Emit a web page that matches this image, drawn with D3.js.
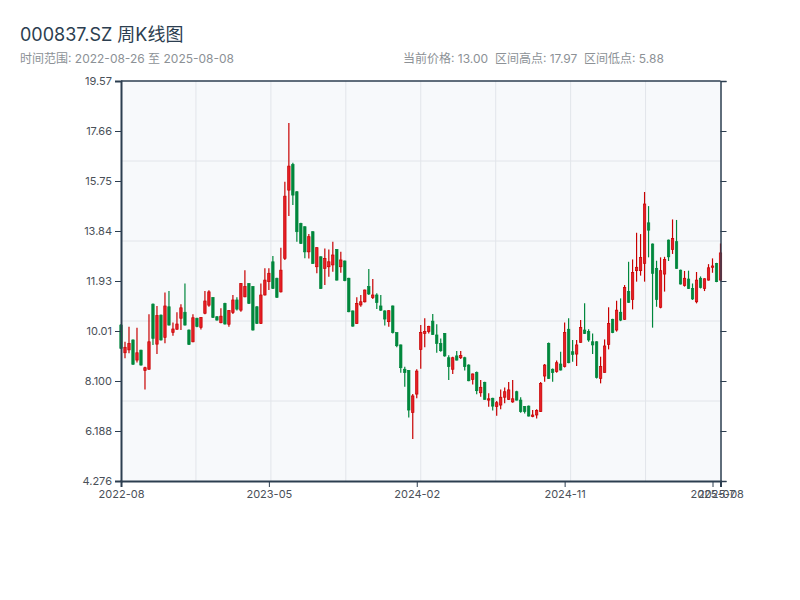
<!DOCTYPE html>
<html>
<head>
<meta charset="utf-8">
<script src="https://cdn.jsdelivr.net/npm/d3@7"></script>
<style>
    body { margin: 0; background: #fff; }
    svg text { font-family: Inter, "Noto Sans CJK SC", sans-serif; }
</style>
</head>
<body>
<div id="chart"></div>
<script>
var SYMBOL = '000837.SZ';

// weekly bars (holiday weeks have no bar)
var DATES = [
    '2022-08-26','2022-09-02','2022-09-09','2022-09-16','2022-09-23','2022-09-30','2022-10-14','2022-10-21',
    '2022-10-28','2022-11-04','2022-11-11','2022-11-18','2022-11-25','2022-12-02','2022-12-09','2022-12-16',
    '2022-12-23','2022-12-30','2023-01-06','2023-01-13','2023-01-20','2023-02-03','2023-02-10','2023-02-17',
    '2023-02-24','2023-03-03','2023-03-10','2023-03-17','2023-03-24','2023-03-31','2023-04-07','2023-04-14',
    '2023-04-21','2023-04-28','2023-05-05','2023-05-12','2023-05-19','2023-05-26','2023-06-02','2023-06-09',
    '2023-06-16','2023-06-23','2023-06-30','2023-07-07','2023-07-14','2023-07-21','2023-07-28','2023-08-04',
    '2023-08-11','2023-08-18','2023-08-25','2023-09-01','2023-09-08','2023-09-15','2023-09-22','2023-09-29',
    '2023-10-13','2023-10-20','2023-10-27','2023-11-03','2023-11-10','2023-11-17','2023-11-24','2023-12-01',
    '2023-12-08','2023-12-15','2023-12-22','2023-12-29','2024-01-05','2024-01-12','2024-01-19','2024-01-26',
    '2024-02-02','2024-02-09','2024-02-23','2024-03-01','2024-03-08','2024-03-15','2024-03-22','2024-03-29',
    '2024-04-05','2024-04-12','2024-04-19','2024-04-26','2024-05-03','2024-05-10','2024-05-17','2024-05-24',
    '2024-05-31','2024-06-07','2024-06-14','2024-06-21','2024-06-28','2024-07-05','2024-07-12','2024-07-19',
    '2024-07-26','2024-08-02','2024-08-09','2024-08-16','2024-08-23','2024-08-30','2024-09-06','2024-09-13',
    '2024-09-20','2024-09-27','2024-10-04','2024-10-11','2024-10-18','2024-10-25','2024-11-01','2024-11-08',
    '2024-11-15','2024-11-22','2024-11-29','2024-12-06','2024-12-13','2024-12-20','2024-12-27','2025-01-03',
    '2025-01-10','2025-01-17','2025-01-24','2025-01-31','2025-02-07','2025-02-14','2025-02-21','2025-02-28',
    '2025-03-07','2025-03-14','2025-03-21','2025-03-28','2025-04-04','2025-04-11','2025-04-18','2025-04-25',
    '2025-05-02','2025-05-09','2025-05-16','2025-05-23','2025-05-30','2025-06-06','2025-06-13','2025-06-20',
    '2025-06-27','2025-07-04','2025-07-11','2025-07-18','2025-07-25','2025-08-01','2025-08-08'
];

var OPEN = [
    10.24, 9.18, 9.29, 9.67, 8.90, 9.28, 8.50, 8.55, 11.04, 9.51, 10.62, 9.77, 10.94, 9.96, 10.08, 10.50,
    10.73, 10.05, 9.60, 10.50, 10.15, 10.69, 11.00, 11.29, 10.56, 10.33, 11.07, 10.27, 10.72, 11.20, 10.81, 11.32,
    11.83, 11.71, 10.94, 10.30, 11.39, 11.90, 12.66, 12.03, 11.51, 12.79, 15.40, 16.38, 15.34, 14.13, 14.00, 13.04,
    13.81, 12.47, 12.85, 12.41, 12.47, 12.54, 13.13, 12.47, 12.69, 12.03, 10.78, 10.30, 11.01, 11.13, 11.71, 11.29,
    11.39, 10.97, 10.78, 10.37, 10.97, 9.95, 9.48, 8.55, 8.50, 6.90, 7.60, 9.31, 9.92, 9.99, 10.39, 9.86,
    9.54, 9.92, 8.99, 8.55, 9.06, 8.99, 8.99, 8.71, 8.16, 8.42, 7.65, 8.05, 7.37, 7.44, 7.12, 7.18,
    7.48, 7.40, 7.30, 7.69, 7.37, 7.12, 7.14, 6.74, 6.80, 6.93, 8.29, 9.54, 8.55, 8.46, 8.75, 8.65,
    10.08, 9.22, 9.13, 9.58, 10.05, 9.99, 9.60, 9.60, 8.20, 8.43, 9.50, 10.46, 10.05, 10.73, 10.46, 11.52,
    11.22, 12.32, 12.32, 12.60, 14.15, 13.34, 12.41, 10.92, 12.19, 13.49, 13.13, 13.43, 12.34, 11.75, 12.00, 11.64,
    11.13, 12.03, 11.64, 11.96, 12.45, 12.60, 11.96
];
var HIGH = [
    10.28, 9.60, 10.18, 9.69, 10.14, 9.30, 8.65, 10.65, 11.06, 10.97, 10.64, 11.49, 11.54, 10.34, 10.73, 11.04,
    11.83, 10.07, 10.65, 10.52, 10.55, 11.54, 11.57, 11.31, 10.58, 10.88, 11.09, 10.81, 11.39, 11.30, 11.85, 12.34,
    11.85, 11.73, 10.96, 11.83, 12.41, 12.41, 12.88, 12.05, 13.20, 15.72, 17.97, 16.45, 15.36, 14.15, 14.02, 13.72,
    13.83, 13.22, 12.87, 13.17, 13.13, 13.43, 13.15, 13.04, 12.71, 12.05, 10.80, 11.30, 11.39, 11.60, 12.38, 12.00,
    11.46, 11.39, 10.81, 10.81, 10.99, 9.96, 9.50, 8.65, 8.52, 7.60, 8.55, 10.24, 10.50, 10.21, 10.66, 10.27,
    9.73, 9.94, 9.09, 9.03, 9.25, 9.25, 9.03, 8.74, 8.39, 8.46, 8.14, 8.07, 7.63, 7.46, 7.34, 7.78,
    7.85, 8.06, 8.14, 7.73, 7.48, 7.14, 7.16, 6.99, 7.02, 8.06, 8.75, 9.57, 8.58, 8.88, 9.22, 10.34,
    10.50, 9.67, 9.67, 10.43, 11.07, 10.08, 9.92, 9.62, 9.03, 9.69, 10.92, 10.48, 11.17, 11.26, 11.77, 12.66,
    12.75, 13.77, 13.72, 15.33, 14.79, 13.36, 12.70, 12.83, 12.85, 13.51, 14.28, 14.26, 12.36, 12.31, 12.32, 11.83,
    12.27, 12.10, 12.03, 12.57, 12.79, 12.62, 13.36
];
var LOW = [
    9.32, 8.97, 9.16, 8.72, 8.81, 8.69, 7.78, 8.53, 9.48, 9.13, 9.65, 9.54, 10.22, 9.83, 10.06, 10.05,
    10.22, 9.48, 9.58, 10.16, 10.07, 10.65, 10.94, 10.51, 10.41, 10.31, 10.26, 10.18, 10.66, 10.80, 10.75, 11.30,
    11.05, 10.03, 10.28, 10.28, 11.37, 11.58, 11.62, 11.28, 11.49, 12.73, 14.41, 14.83, 13.43, 13.34, 12.80, 12.79,
    12.58, 12.22, 11.62, 11.77, 12.09, 12.28, 11.94, 12.24, 11.92, 10.73, 10.18, 10.28, 10.94, 11.10, 11.39, 11.24,
    10.85, 10.78, 10.22, 10.18, 9.92, 9.39, 8.42, 7.88, 6.70, 5.88, 7.44, 8.57, 9.39, 9.92, 9.86, 9.18,
    9.22, 9.03, 8.14, 8.37, 8.88, 8.94, 8.50, 8.09, 7.97, 7.59, 7.50, 7.38, 7.12, 6.97, 6.77, 7.02,
    7.25, 7.37, 7.27, 7.35, 6.89, 6.86, 6.74, 6.71, 6.67, 6.91, 8.07, 8.18, 8.07, 8.42, 8.50, 8.62,
    8.78, 8.84, 8.67, 9.56, 9.90, 9.60, 9.13, 8.20, 8.01, 8.42, 9.31, 9.93, 9.99, 10.39, 10.44, 11.09,
    10.84, 11.90, 12.13, 11.90, 12.83, 10.14, 10.94, 10.88, 11.52, 12.69, 12.96, 12.39, 11.79, 11.71, 11.62, 11.20,
    11.07, 11.64, 11.54, 11.94, 12.24, 11.88, 11.94
];
var CLOSE = [
    9.35, 9.39, 9.54, 8.74, 9.18, 8.71, 8.61, 9.60, 9.73, 10.60, 9.67, 10.97, 10.24, 10.09, 10.28, 10.90,
    10.24, 9.50, 10.52, 10.18, 10.53, 11.16, 11.51, 10.53, 10.43, 10.58, 10.28, 10.80, 11.20, 10.85, 11.83, 11.71,
    11.07, 10.05, 10.30, 11.39, 11.96, 12.22, 11.64, 11.30, 12.34, 15.17, 16.32, 15.21, 13.81, 13.36, 13.04, 13.62,
    12.60, 13.20, 11.64, 12.79, 12.66, 12.92, 11.96, 12.73, 11.94, 10.75, 10.20, 11.07, 11.13, 11.58, 11.43, 11.39,
    11.10, 10.81, 10.47, 10.79, 9.95, 9.45, 8.61, 8.42, 6.99, 7.53, 8.48, 9.96, 9.99, 10.19, 9.88, 9.54,
    9.26, 9.06, 8.65, 8.99, 8.90, 9.07, 8.65, 8.11, 8.37, 7.73, 7.86, 7.40, 7.42, 7.14, 7.27, 7.48,
    7.69, 7.76, 7.42, 7.37, 6.93, 6.93, 6.76, 6.80, 6.97, 8.01, 8.71, 8.20, 8.42, 8.80, 8.52, 9.96,
    8.80, 9.12, 9.48, 10.15, 9.92, 9.67, 9.48, 8.24, 8.65, 9.44, 10.30, 9.95, 10.81, 10.43, 11.68, 11.11,
    12.25, 12.45, 12.83, 14.87, 13.87, 12.22, 11.22, 12.32, 12.75, 12.85, 13.55, 12.41, 11.81, 12.03, 11.64, 11.24,
    11.96, 11.68, 12.01, 12.43, 12.50, 11.90, 13.00
];

// axis settings
var Y_DOMAIN = [4.2756, 19.5747];
var Y_TICK_COUNT = 8;
var X_TICK_EVERY = 37;

(function () {
    var margin = {top: 81, right: 79.5, bottom: 119, left: 121},
        width = 800 - margin.left - margin.right,
        height = 600 - margin.top - margin.bottom;

    var axisColor = '#2c3e50',
        upColor = '#e41f26', upStroke = '#c80000',
        downColor = '#00873c';

    var n = DATES.length;
    var bars = DATES.map(function (d, i) {
        return {date: d, i: i, open: OPEN[i], high: HIGH[i], low: LOW[i], close: CLOSE[i]};
    });

    var x = d3.scaleLinear()
              .domain([0, n - 1])
              .range([0, width]);
    var y = d3.scaleLinear()
              .domain(Y_DOMAIN)
              .range([height, 0]);

    var svg = d3.select('#chart').append('svg')
            .attr('width', 800)
            .attr('height', 600);

    // Title and summary line
    svg.append('text')
        .attr('x', 20).attr('y', 41)
        .attr('font-size', 18)
        .attr('fill', axisColor)
        .text(SYMBOL + ' 周K线图');

    var sub = svg.append('g')
        .attr('font-size', 12)
        .attr('fill', '#8c9196');
    sub.append('text')
        .attr('x', 20).attr('y', 63)
        .text('时间范围: ' + DATES[0] + ' 至 ' + DATES[n - 1]);
    sub.append('text')
        .attr('x', 403).attr('y', 63)
        .attr('xml:space', 'preserve')
        .text('当前价格: ' + CLOSE[n - 1].toFixed(2) +
              '  区间高点: ' + d3.max(HIGH).toFixed(2) +
              '  区间低点: ' + d3.min(LOW).toFixed(2));

    var g = svg.append('g')
        .attr('transform', 'translate(' + margin.left + ',' + margin.top + ')');

    g.append('rect')
        .attr('width', width)
        .attr('height', height)
        .attr('fill', '#f7f9fb');

    // Grid: equal divisions of the plot
    g.append('g').selectAll('line')
        .data(d3.range(1, 8))
      .enter().append('line')
        .attr('x1', function (k) { return width * k / 8; })
        .attr('x2', function (k) { return width * k / 8; })
        .attr('y1', 0).attr('y2', height)
        .attr('stroke', '#e2e5ea');
    g.append('g').selectAll('line')
        .data(d3.range(1, 5))
      .enter().append('line')
        .attr('y1', function (k) { return height * k / 5; })
        .attr('y2', function (k) { return height * k / 5; })
        .attr('x1', 0).attr('x2', width)
        .attr('stroke', '#e2e5ea');

    // Candles
    var bodyW = Math.max(1, (width / (n - 1)) * 0.6);
    var candle = g.append('g').selectAll('g')
            .data(bars)
        .enter().append('g')
            .attr('transform', function (d) { return 'translate(' + x(d.i) + ',0)'; });

    candle.append('line')
        .attr('y1', function (d) { return y(d.high); })
        .attr('y2', function (d) { return y(d.low); })
        .attr('stroke', function (d) { return d.close >= d.open ? upStroke : downColor; })
        .attr('stroke-width', 1.2);

    candle.append('rect')
        .attr('x', -bodyW / 2)
        .attr('width', bodyW)
        .attr('y', function (d) { return y(Math.max(d.open, d.close)); })
        .attr('height', function (d) { return Math.max(0.8, Math.abs(y(d.open) - y(d.close))); })
        .attr('fill', function (d) { return d.close >= d.open ? upColor : downColor; })
        .attr('stroke', function (d) { return d.close >= d.open ? upStroke : downColor; })
        .attr('stroke-width', 0.7);

    // Axes
    var yTicks = d3.range(Y_TICK_COUNT + 1).map(function (k) {
        return Y_DOMAIN[0] + k * (Y_DOMAIN[1] - Y_DOMAIN[0]) / Y_TICK_COUNT;
    });
    var xTicks = d3.range(0, n, X_TICK_EVERY);
    if (xTicks[xTicks.length - 1] !== n - 1) { xTicks.push(n - 1); }

    var yAxisL = g.append('g')
        .call(d3.axisLeft(y).tickValues(yTicks).tickFormat(d3.format('.4g')));
    var yAxisR = g.append('g')
        .attr('transform', 'translate(' + width + ',0)')
        .call(d3.axisRight(y).tickValues(yTicks).tickFormat(''));
    var xAxis = g.append('g')
        .attr('transform', 'translate(0,' + height + ')')
        .call(d3.axisBottom(x).tickValues(xTicks)
              .tickFormat(function (i) { return DATES[i].slice(0, 7); }));

    g.append('line')
        .attr('x1', 0).attr('x2', width)
        .attr('y1', 0).attr('y2', 0)
        .attr('stroke', axisColor)
        .attr('stroke-width', 1.5);

    [yAxisL, yAxisR, xAxis].forEach(function (a) {
        a.selectAll('path, line').attr('stroke', axisColor);
        a.selectAll('text')
            .attr('fill', '#4a5058')
            .attr('font-size', 11)
            .attr('font-family', 'Inter, sans-serif');
    });
    yAxisL.select('.domain').attr('stroke-width', 2);
    xAxis.select('.domain').attr('stroke-width', 2);
    yAxisR.select('.domain').attr('stroke-width', 1.5);
})();
</script>
</body>
</html>
